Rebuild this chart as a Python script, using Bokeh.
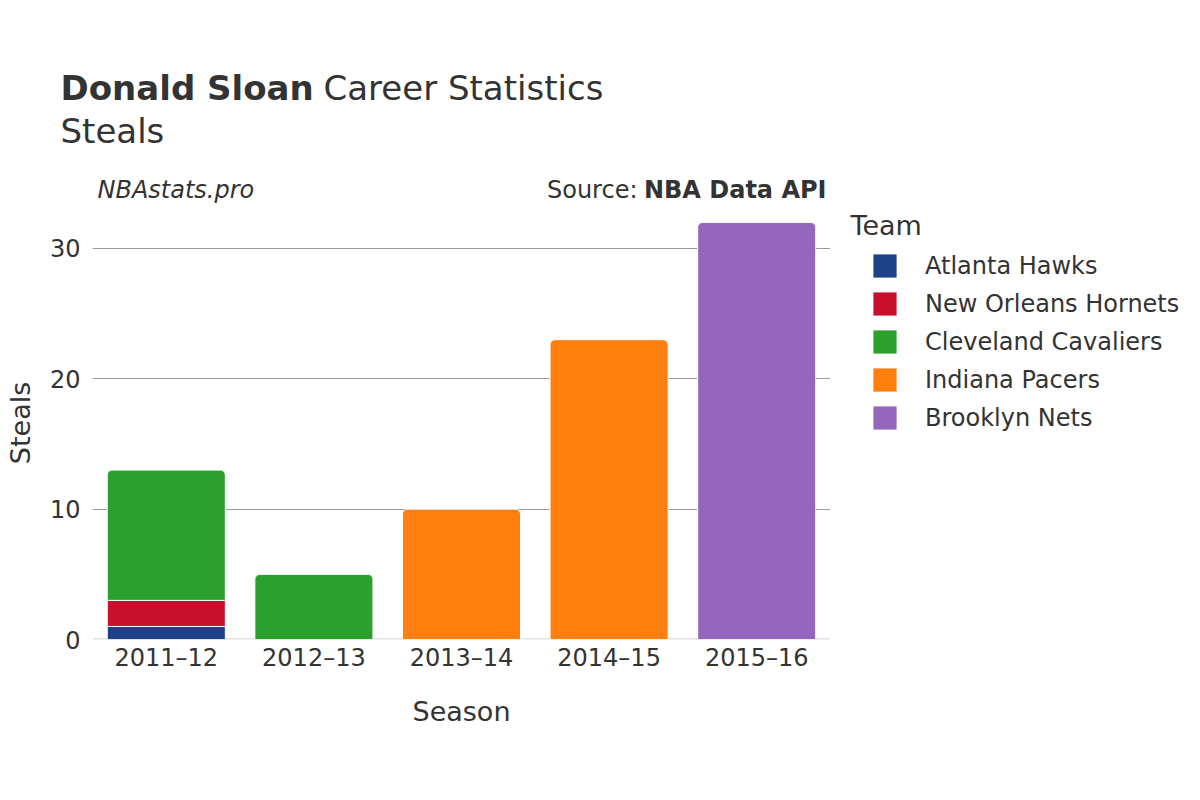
from bokeh.plotting import figure
from bokeh.models import (FactorRange, Range1d, FixedTicker, Label, Legend, LegendItem,
                          Span, ColumnDataSource)
from bokeh.layouts import column, row
from bokeh.embed import file_html
from bokeh.resources import INLINE

# ---- data ----
seasons = ["2011–12", "2012–13", "2013–14", "2014–15", "2015–16"]
teams = ["Atlanta Hawks", "New Orleans Hornets", "Cleveland Cavaliers",
         "Indiana Pacers", "Brooklyn Nets"]
colors = ["#1d428a", "#c8102e", "#2ca02c", "#ff7f0e", "#9467bd"]
atlanta_hawks = [1, 0, 0, 0, 0]
new_orleans_hornets = [2, 0, 0, 0, 0]
cleveland_cavaliers = [10, 5, 0, 0, 0]
indiana_pacers = [0, 0, 10, 23, 0]
brooklyn_nets = [0, 0, 0, 0, 32]
y_ticks = [0, 10, 20, 30]
y_max = 33.22

series = [atlanta_hawks, new_orleans_hornets, cleveland_cavaliers, indiana_pacers, brooklyn_nets]

FONT = "DejaVu Sans"
TXT = "#333333"

W, H = 1184, 784
HEAD_H = 206
MAIN_W = 830
SIDE_W = W - MAIN_W
BODY_H = H - HEAD_H
FRAME_BOTTOM = 639   # page y of the chart's zero line


def blank(width, height):
    f = figure(width=width, height=height, x_range=Range1d(0, width), y_range=Range1d(0, height),
               output_backend="svg", toolbar_location=None, x_axis_type=None, y_axis_type=None,
               min_border=0, min_border_left=0, min_border_right=0, min_border_top=0,
               min_border_bottom=0)
    f.outline_line_color = None
    f.grid.visible = False
    f.background_fill_color = "white"
    f.border_fill_color = "white"
    return f


def lab(fig, x, y, text, size, style="normal", align="left"):
    fig.add_layout(Label(x=x, y=y, x_units="screen", y_units="screen", text=text,
                         text_font=FONT, text_font_size=size, text_font_style=style,
                         text_color=TXT, text_align=align, text_baseline="alphabetic"))


def head_y(baseline, size):
    # baseline in page pixels -> screen y in the header
    return HEAD_H - (baseline - 0.36 * size)


# ---- header ----
head = blank(W, HEAD_H)
lab(head, 60, head_y(99.5, 34), "Donald Sloan", "34px", "bold")
lab(head, 323, head_y(99.5, 34), "Career Statistics", "34px")
lab(head, 60, head_y(143, 34), "Steals", "34px")
lab(head, 97, head_y(198.5, 24), "NBAstats.pro", "24px", "italic")
lab(head, 637, head_y(198.5, 24), "Source:", "24px", align="right")
lab(head, 826, head_y(198.5, 24), "NBA Data API", "24px", "bold", align="right")

# ---- main chart ----
p = figure(x_range=FactorRange(*seasons, range_padding=0),
           y_range=Range1d(0, y_max),
           width=MAIN_W, height=BODY_H, output_backend="svg", toolbar_location=None,
           min_border_left=92, min_border_right=0, min_border_top=0,
           min_border_bottom=145)
p.outline_line_color = None
p.background_fill_color = "white"
p.border_fill_color = "white"

p.xaxis.axis_line_color = None
p.yaxis.axis_line_color = None
p.xaxis.major_tick_line_color = None
p.yaxis.major_tick_line_color = None
p.xaxis.minor_tick_line_color = None
p.yaxis.minor_tick_line_color = None
p.yaxis.ticker = FixedTicker(ticks=y_ticks)
for ax in (p.xaxis, p.yaxis):
    ax.major_label_text_font = FONT
    ax.major_label_text_font_size = "24px"
    ax.major_label_text_color = TXT
    ax.axis_label_text_font = FONT
    ax.axis_label_text_font_size = "27px"
    ax.axis_label_text_font_style = "normal"
    ax.axis_label_text_color = TXT
p.xaxis.major_label_standoff = -2
p.yaxis.major_label_standoff = 6
p.xaxis.axis_label = "Season"
p.yaxis.axis_label = "Steals"
p.xaxis.axis_label_standoff = 21
p.yaxis.axis_label_standoff = 11
p.xgrid.grid_line_color = None
p.ygrid.grid_line_color = "#9a9a9a"
p.ygrid.grid_line_width = 1

p.add_layout(Span(location=0, dimension="width", line_color="#e3e3e3", line_width=3,
                  level="underlay"))

bottoms = [0] * len(seasons)
totals = [sum(s[i] for s in series) for i in range(len(seasons))]
for team, col, vals in zip(teams, colors, series):
    top_d = dict(x=[], b=[], t=[])
    low_d = dict(x=[], b=[], t=[])
    for i, v in enumerate(vals):
        if v <= 0:
            continue
        b = bottoms[i]
        t = b + v
        d = top_d if t >= totals[i] else low_d
        d["x"].append(seasons[i]); d["b"].append(b); d["t"].append(t)
        bottoms[i] = t
    p.vbar(x="x", bottom="b", top="t", width=0.8, source=ColumnDataSource(top_d),
           fill_color=col, line_color="white", line_width=1, border_radius=(5, 5, 0, 0))
    p.vbar(x="x", bottom="b", top="t", width=0.8, source=ColumnDataSource(low_d),
           fill_color=col, line_color="white", line_width=1)

# ---- legend panel (its frame is aligned with the chart frame: page y 206..639) ----
side = blank(SIDE_W, BODY_H)
lab(side, 20, FRAME_BOTTOM - (235 - 0.36 * 27), "Team", "27px")
items = []
for team, col in zip(teams, colors):
    # zero-size proxy glyph, used only for the legend swatch
    r = side.vbar(x=[0], bottom=[0], top=[0], width=0, fill_color=col, line_color=None)
    items.append(LegendItem(label=team, renderers=[r]))
legend = Legend(items=items, location=(40, FRAME_BOTTOM - 432), margin=0, padding=0,
                glyph_width=29, glyph_height=29, label_standoff=26, spacing=9,
                label_text_font=FONT, label_text_font_size="24px",
                label_text_color=TXT, border_line_color=None,
                background_fill_alpha=0)
side.add_layout(legend)

layout = column(head, row(p, side, spacing=0), spacing=0)
open("out.html", "w").write(file_html(layout, INLINE))
